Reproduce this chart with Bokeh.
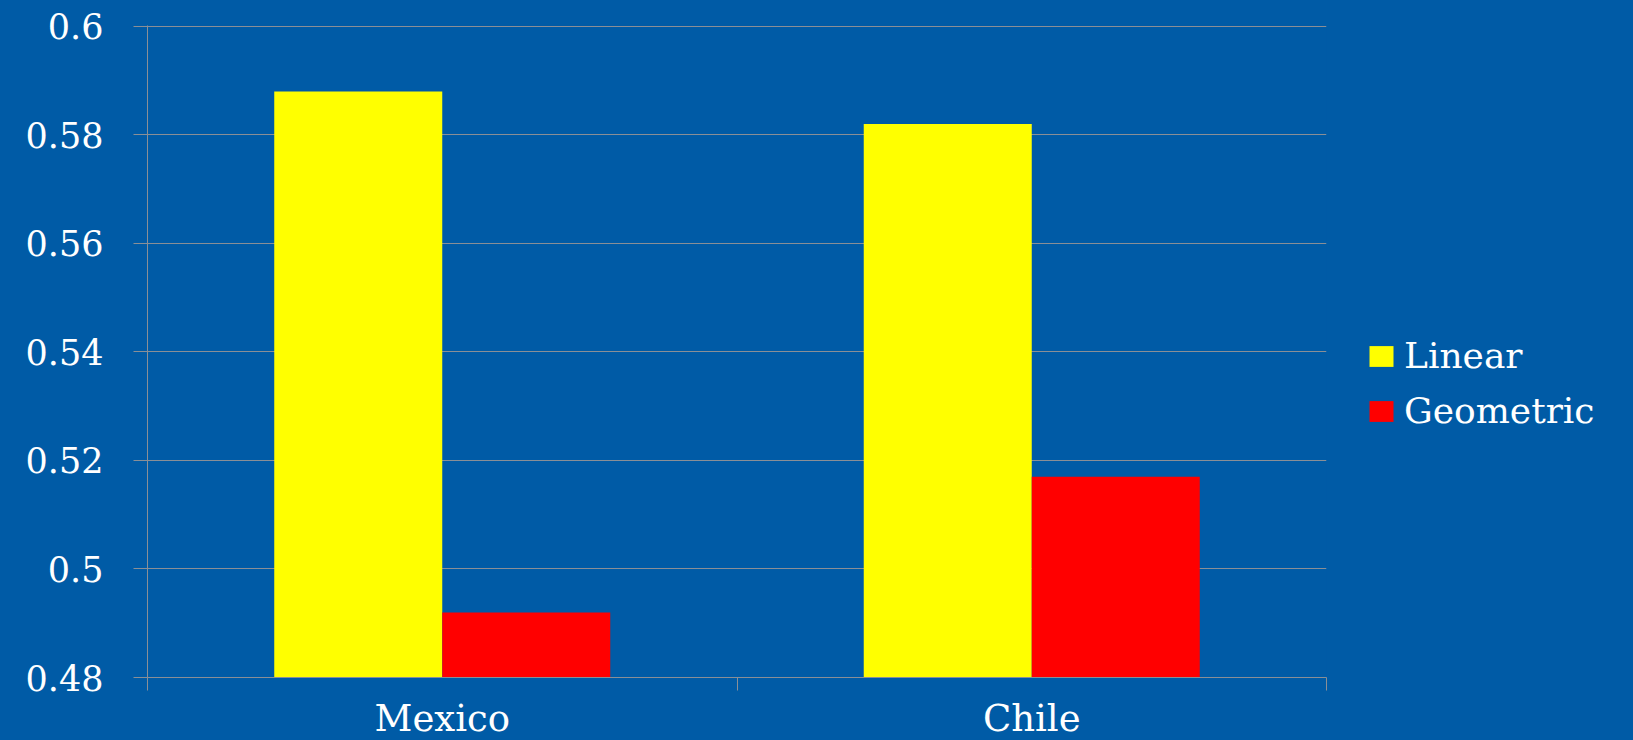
from bokeh.plotting import figure
from bokeh.models import FixedTicker, Legend, LegendItem, ColumnDataSource, Range1d
from bokeh.embed import file_html
from bokeh.resources import INLINE

categories = ["Mexico", "Chile"]
linear = [0.588, 0.582]
geometric = [0.492, 0.517]
y_ticks = [0.48, 0.50, 0.52, 0.54, 0.56, 0.58, 0.60]
y_labels = ["0.48", "0.5", "0.52", "0.54", "0.56", "0.58", "0.6"]

BG = "#005BA6"
GRID = "#8A8F96"
FONT = "DejaVu Serif"

centers = [i + 0.5 for i in range(len(categories))]
bw = 0.285
src_lin = ColumnDataSource(dict(x=[c - bw / 2 for c in centers], top=linear))
src_geo = ColumnDataSource(dict(x=[c + bw / 2 for c in centers], top=geometric))

p = figure(frame_width=1179, frame_height=652, output_backend="svg", toolbar_location=None,
           x_range=Range1d(0, len(categories)), y_range=Range1d(0.48, 0.60015),
           min_border_left=147, min_border_right=0, min_border_top=25, min_border_bottom=10,
           outline_line_color=None)
p.background_fill_color = BG
p.border_fill_color = BG

r1 = p.vbar(x="x", top="top", bottom=0.48, width=bw, source=src_lin, fill_color="#FFFF00", line_color=None)
r2 = p.vbar(x="x", top="top", bottom=0.48, width=bw, source=src_geo, fill_color="#FF0000", line_color=None)

p.xgrid.visible = False
p.ygrid.grid_line_color = GRID
p.ygrid.grid_line_width = 1
p.ygrid.ticker = FixedTicker(ticks=y_ticks)

ya = p.yaxis[0]
ya.ticker = FixedTicker(ticks=y_ticks)
ya.major_label_overrides = {t: l for t, l in zip(y_ticks, y_labels)}
ya.axis_line_color = GRID
ya.major_tick_line_color = GRID
ya.major_tick_out = 14
ya.major_tick_in = 0
ya.minor_tick_line_color = None
ya.major_label_text_font = FONT
ya.major_label_text_font_size = "35px"
ya.major_label_text_color = "white"
ya.major_label_standoff = 30

xa = p.xaxis[0]
xa.ticker = FixedTicker(ticks=centers, minor_ticks=[float(i) for i in range(len(categories) + 1)])
xa.major_label_overrides = {c: n for c, n in zip(centers, categories)}
xa.axis_line_color = GRID
xa.major_tick_line_color = None
xa.minor_tick_line_color = GRID
xa.minor_tick_out = 13
xa.minor_tick_in = 0
xa.major_label_text_font = FONT
xa.major_label_text_font_size = "37px"
xa.major_label_text_color = "white"
xa.major_label_standoff = 6

legend = Legend(items=[LegendItem(label="Linear", renderers=[r1]),
                       LegendItem(label="Geometric", renderers=[r2])],
                location=(40, 246))
legend.background_fill_alpha = 0
legend.border_line_color = None
legend.label_text_font = FONT
legend.label_text_font_size = "36px"
legend.label_text_color = "white"
legend.glyph_width = 30
legend.glyph_height = 26
legend.spacing = 14
legend.padding = 0
legend.margin = 0
legend.label_standoff = 8
p.add_layout(legend, "right")

html = file_html(p, INLINE)
html = html.replace("<head>", "<head><style>html, body { background: #005BA6; }</style>", 1)
open("out.html", "w").write(html)
